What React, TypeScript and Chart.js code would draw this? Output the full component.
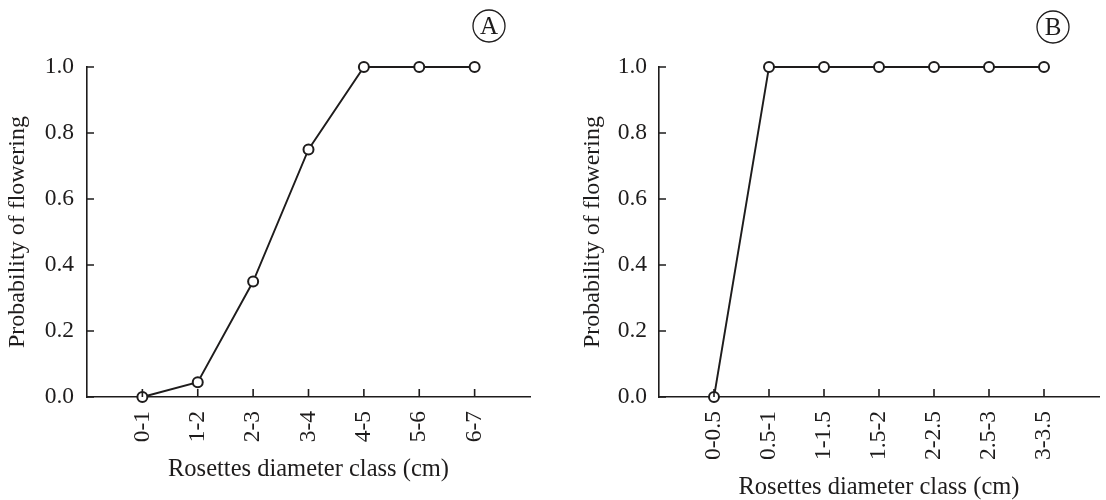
import React, { useEffect, useRef } from "react";
import { Chart, registerables } from "chart.js";

Chart.register(...registerables);

const labelsA = ["0-1", "1-2", "2-3", "3-4", "4-5", "5-6", "6-7"];
const valuesA = [0, 0.045, 0.35, 0.75, 1, 1, 1];
const labelsB = ["0-0.5", "0.5-1", "1-1.5", "1.5-2", "2-2.5", "2.5-3", "3-3.5"];
const valuesB = [0, 1, 1, 1, 1, 1, 1];
const yTicks = [0, 0.2, 0.4, 0.6, 0.8, 1.0];
const xTitle = "Rosettes diameter class (cm)";
const yTitle = "Probability of flowering";

const INK = "#1e1c1c";
const SERIF = '"Liberation Serif", "Times New Roman", serif';

type PanelProps = {
  labels: string[];
  values: number[];
  letter: string;
  left: number;
  width: number;
  yScaleWidth: number;
  rightPad: number;
  yTitlePad: number;
  xTitlePadBottom: number;
  yLabelPad: number;
  letterX: number;
  letterY: number;
};

function Panel(p: PanelProps) {
  const ref = useRef<HTMLCanvasElement | null>(null);
  useEffect(() => {
    if (!ref.current) return;
    const tickPlugin = {
      id: "inwardTicks",
      afterDraw(chart: any) {
        const ctx = chart.ctx;
        const xs = chart.scales.x;
        const ys = chart.scales.y;
        ctx.save();
        ctx.strokeStyle = INK;
        ctx.lineWidth = 1.6;
        ctx.beginPath();
        p.labels.forEach((_, i) => {
          const px = xs.getPixelForValue(i);
          ctx.moveTo(px, ys.bottom);
          ctx.lineTo(px, ys.bottom - 8);
        });
        yTicks.forEach((v) => {
          const py = ys.getPixelForValue(v);
          ctx.moveTo(xs.left, py);
          ctx.lineTo(xs.left + 7, py);
        });
        ctx.stroke();
        // panel letter
        ctx.lineWidth = 1.3;
        ctx.beginPath();
        ctx.arc(p.letterX, p.letterY, 16, 0, Math.PI * 2);
        ctx.stroke();
        ctx.fillStyle = INK;
        ctx.font = `25px ${SERIF}`;
        ctx.textAlign = "center";
        ctx.textBaseline = "middle";
        ctx.fillText(p.letter, p.letterX, p.letterY + 1);
        ctx.restore();
      },
    };
    const chart = new Chart(ref.current, {
      type: "line",
      data: {
        datasets: [
          {
            data: p.values.map((v, i) => ({ x: i, y: v })),
            borderColor: INK,
            borderWidth: 1.9,
            pointRadius: 5,
            pointBorderWidth: 2,
            pointBackgroundColor: "#ffffff",
            pointBorderColor: INK,
            tension: 0,
            clip: false,
          } as any,
        ],
      },
      options: {
        responsive: false,
        animation: false,
        devicePixelRatio: 1,
        layout: { padding: { top: 67, right: p.rightPad, bottom: 0, left: 0 } },
        plugins: { legend: { display: false }, tooltip: { enabled: false }, title: { display: false } },
        scales: {
          x: {
            type: "linear",
            min: -1,
            max: 7,
            afterBuildTicks: (s: any) => {
              s.ticks = p.labels.map((_, i) => ({ value: i }));
            },
            afterFit: (s: any) => {
              s.height = 103;
            },
            ticks: {
              autoSkip: false,
              minRotation: 90,
              maxRotation: 90,
              padding: 14,
              color: INK,
              font: { family: SERIF, size: 23.5 },
              callback: (v: any) => p.labels[Number(v)] ?? "",
            },
            grid: { display: false, drawTicks: false },
            border: { display: true, color: INK, width: 1.6 },
            title: {
              display: true,
              text: xTitle,
              color: INK,
              font: { family: SERIF, size: 24.5, lineHeight: 1 },
              padding: { top: 0, bottom: p.xTitlePadBottom },
            },
          },
          y: {
            type: "linear",
            min: 0,
            max: 1,
            afterBuildTicks: (s: any) => {
              s.ticks = yTicks.map((v) => ({ value: v }));
            },
            afterFit: (s: any) => {
              s.width = p.yScaleWidth;
            },
            ticks: {
              padding: p.yLabelPad,
              color: INK,
              font: { family: SERIF, size: 23.5 },
              callback: (v: any) => Number(v).toFixed(1),
            },
            grid: { display: false, drawTicks: false },
            border: { display: true, color: INK, width: 1.6 },
            title: {
              display: true,
              text: yTitle,
              color: INK,
              font: { family: SERIF, size: 24, lineHeight: 1 },
              padding: { top: p.yTitlePad, bottom: 0 },
            },
          },
        },
      } as any,
      plugins: [tickPlugin],
    });
    return () => chart.destroy();
  }, []);
  return (
    <canvas
      ref={ref}
      width={p.width}
      height={500}
      style={{ position: "absolute", left: p.left, top: 0, width: p.width, height: 500 }}
    />
  );
}

export default function App() {
  return (
    <div style={{ position: "absolute", left: 0, top: 0, width: 1106, height: 500, background: "#fff" }}>
      <Panel
        labels={labelsA}
        values={valuesA}
        letter="A"
        left={0}
        width={553}
        yScaleWidth={87}
        rightPad={23}
        yTitlePad={6}
        xTitlePadBottom={18}
        yLabelPad={13}
        letterX={489}
        letterY={26}
      />
      <Panel
        labels={labelsB}
        values={valuesB}
        letter="B"
        left={572}
        width={534}
        yScaleWidth={87}
        rightPad={3}
        yTitlePad={9}
        xTitlePadBottom={0}
        yLabelPad={12}
        letterX={481}
        letterY={27}
      />
    </div>
  );
}
